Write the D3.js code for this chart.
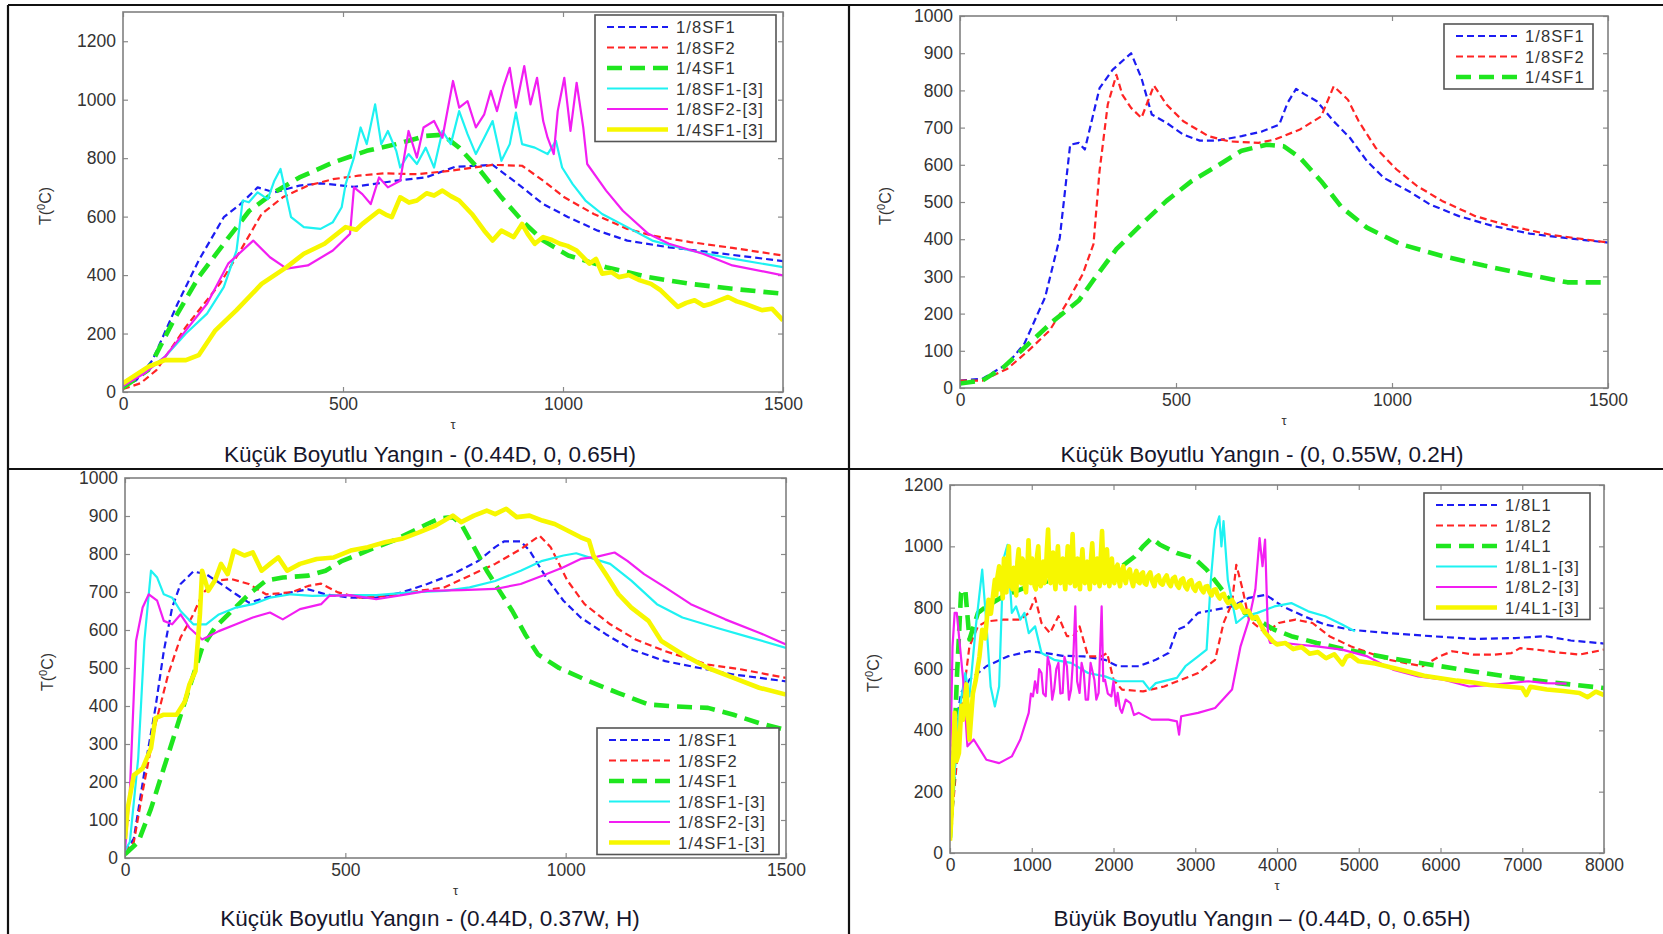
<!DOCTYPE html>
<html>
<head>
<meta charset="utf-8">
<script src="https://cdn.jsdelivr.net/npm/d3@7"></script>
<style>
  body { margin: 0; background: #fff; }
  svg { display: block; font-family: "Liberation Sans", Arial, Helvetica, sans-serif; }
</style>
</head>
<body>
<svg id="fig" width="1663" height="934"></svg>
<script>
// ---------- Data: [time τ, temperature T(°C)] ----------

// Panel A: small fire, (0.44D, 0, 0.65H)
const a_sf1 = [[0,18],[30,40],[67,109],[124,302],[172,450],[229,598],[267,643],[306,700],[344,683],[401,706],[449,714],[525,702],[621,723],[688,734],[754,770],[840,777],[898,711],[955,643],[1012,598],[1079,552],[1146,518],[1241,495],[1337,478],[1500,448]];
const a_sf2 = [[0,10],[40,30],[76,75],[143,223],[220,370],[267,484],[315,609],[363,666],[420,706],[477,728],[535,740],[592,748],[668,745],[745,757],[840,777],[907,774],[955,723],[1003,666],[1070,609],[1146,558],[1203,535],[1289,513],[1385,493],[1500,467]];
const a_qsf1 = [[0,15],[57,75],[115,245],[172,393],[229,507],[287,620],[344,683],[401,734],[477,785],[554,825],[621,848],[688,876],[726,880],[764,836],[812,757],[860,666],[907,586],[955,518],[1012,467],[1098,427],[1194,393],[1289,370],[1385,353],[1500,336]];
const a_sf1_ref = [[0,25],[50,70],[95,120],[143,200],[191,268],[229,359],[258,484],[272,655],[286,649],[306,683],[329,660],[344,723],[358,763],[372,666],[382,598],[411,564],[449,558],[477,581],[497,632],[506,711],[525,802],[540,905],[554,848],[573,984],[587,848],[602,893],[621,825],[630,768],[649,814],[668,780],[688,836],[707,768],[726,893],[745,848],[764,961],[783,882],[802,814],[821,870],[840,927],[860,791],[879,848],[893,956],[907,848],[936,836],[965,814],[984,859],[998,768],[1022,711],[1051,655],[1089,609],[1146,564],[1203,518],[1289,484],[1385,456],[1500,427]];
const a_sf2_ref = [[0,20],[50,65],[95,120],[143,211],[191,302],[239,439],[296,518],[334,461],[372,422],[420,433],[477,484],[516,541],[525,700],[544,677],[563,643],[582,734],[602,700],[630,723],[649,893],[668,802],[683,905],[707,927],[726,870],[750,1064],[764,973],[783,995],[802,905],[821,950],[836,1030],[850,961],[864,1041],[879,1109],[893,973],[912,1115],[926,984],[941,1075],[955,927],[965,870],[979,814],[988,961],[1003,1075],[1017,893],[1031,1058],[1046,905],[1055,780],[1098,689],[1136,620],[1194,541],[1241,507],[1318,473],[1385,433],[1500,399]];
const a_qsf1_ref = [[0,30],[57,86],[95,109],[143,109],[172,126],[210,211],[258,280],[315,370],[372,427],[411,473],[458,507],[506,564],[530,555],[544,575],[582,620],[600,605],[611,598],[630,666],[650,648],[668,655],[690,680],[707,672],[726,689],[745,670],[764,655],[793,609],[821,552],[840,518],[860,552],[875,540],[888,530],[907,575],[920,540],[936,507],[955,530],[975,520],[993,507],[1010,500],[1031,484],[1060,439],[1075,455],[1089,405],[1110,410],[1127,393],[1150,400],[1175,382],[1200,370],[1222,348],[1261,291],[1280,305],[1299,314],[1320,295],[1337,302],[1375,325],[1395,310],[1413,302],[1452,280],[1475,285],[1500,245]];

// Panel B: small fire, (0, 0.55W, 0.2H)
const b_sf1 = [[0,20],[52,25],[110,65],[149,119],[197,244],[231,404],[255,654],[275,659],[289,641],[323,806],[353,855],[396,900],[420,833],[444,735],[478,713],[517,681],[555,665],[594,665],[652,677],[700,690],[739,708],[758,766],[778,804],[797,790],[826,771],[865,717],[903,672],[942,610],[981,565],[1039,529],[1087,494],[1155,462],[1232,436],[1319,415],[1396,404],[1500,391]];
const b_sf2 = [[0,20],[52,20],[110,52],[159,101],[207,154],[246,226],[284,306],[309,387],[323,583],[342,762],[362,842],[376,788],[396,753],[420,726],[449,813],[478,762],[517,717],[575,677],[623,663],[691,659],[729,668],[787,695],[836,730],[865,811],[898,775],[923,717],[962,646],[1010,588],[1058,543],[1116,503],[1193,462],[1271,436],[1367,412],[1500,391]];
const b_qsf1 = [[0,12],[52,20],[101,56],[159,119],[217,181],[275,235],[313,297],[362,373],[420,440],[478,503],[536,556],[594,596],[652,638],[710,654],[749,650],[787,619],[836,556],[884,485],[942,431],[1019,387],[1116,355],[1213,329],[1309,306],[1406,284],[1500,284]];

// Panel C: small fire, (0.44D, 0.37W, H)
const c_sf1 = [[0,15],[20,51],[49,263],[69,395],[88,544],[107,659],[126,721],[155,754],[184,747],[213,725],[252,694],[281,672],[320,685],[377,699],[416,707],[455,694],[512,685],[570,685],[628,699],[686,721],[744,747],[802,782],[840,818],[860,833],[898,833],[918,809],[956,738],[995,677],[1034,633],[1091,589],[1149,549],[1226,518],[1304,500],[1381,483],[1500,465]];
const c_sf2 = [[0,15],[20,42],[40,174],[69,351],[98,483],[126,580],[155,641],[175,694],[204,730],[242,734],[281,721],[320,694],[377,699],[416,716],[445,722],[483,699],[532,685],[590,689],[667,703],[724,712],[782,743],[840,774],[898,813],[941,848],[966,818],[1004,730],[1043,668],[1101,615],[1159,575],[1226,544],[1323,509],[1400,496],[1500,474]];
const c_qsf1 = [[0,10],[30,42],[59,130],[88,236],[117,342],[146,448],[175,553],[204,606],[242,650],[281,694],[320,730],[358,738],[416,743],[455,756],[493,782],[532,800],[570,818],[609,835],[648,857],[686,879],[715,894],[744,897],[763,879],[792,818],[821,756],[850,703],[879,650],[908,589],[937,536],[985,500],[1053,465],[1120,434],[1188,404],[1246,399],[1323,395],[1381,377],[1439,355],[1500,337]];
const c_sf1_ref = [[0,20],[11,42],[30,263],[44,571],[59,756],[73,738],[88,694],[107,685],[126,650],[155,615],[184,615],[213,641],[252,659],[290,668],[329,685],[377,694],[425,690],[493,692],[570,692],[648,699],[725,703],[782,712],[840,729],[898,756],[947,782],[995,796],[1024,802],[1053,791],[1101,774],[1149,730],[1207,668],[1265,633],[1342,606],[1420,580],[1500,553]];
const c_sf2_ref = [[0,20],[11,174],[25,571],[40,659],[54,694],[73,677],[88,624],[107,615],[126,641],[146,606],[175,575],[213,597],[252,615],[290,633],[329,646],[358,628],[397,655],[445,668],[464,690],[512,692],[570,681],[628,692],[686,703],[763,705],[840,708],[898,721],[947,743],[995,765],[1034,787],[1072,793],[1111,804],[1140,782],[1178,747],[1226,712],[1284,668],[1362,628],[1439,593],[1500,562]];
const c_qsf1_ref = [[0,50],[6,130],[20,218],[40,236],[59,289],[69,368],[88,377],[117,377],[136,412],[146,456],[160,492],[170,641],[175,756],[189,703],[204,730],[218,774],[233,747],[247,809],[271,796],[290,804],[310,756],[329,774],[348,791],[368,756],[397,774],[435,787],[474,791],[512,809],[551,818],[590,831],[628,840],[667,857],[705,875],[744,901],[763,884],[792,901],[821,914],[840,905],[865,919],[889,897],[918,901],[947,888],[975,879],[1004,862],[1034,844],[1053,835],[1063,796],[1091,747],[1120,694],[1149,659],[1188,624],[1217,571],[1265,536],[1323,500],[1381,474],[1439,448],[1500,430]];

// Panel D: large fire, (0.44D, 0, 0.65H)
const d_l1 = [[0,60],[31,348],[135,522],[238,565],[445,609],[704,641],[963,658],[1171,652],[1378,643],[1637,641],[1896,630],[2051,609],[2310,609],[2517,630],[2673,652],[2776,728],[2880,739],[3035,783],[3243,793],[3450,804],[3657,832],[3864,842],[4071,804],[4330,772],[4589,745],[4900,728],[5366,717],[5884,707],[6402,698],[6920,701],[7283,707],[7594,693],[8000,683]];
const d_l2 = [[0,40],[135,457],[238,674],[342,739],[445,755],[652,761],[860,761],[963,783],[1041,832],[1119,750],[1223,717],[1326,772],[1430,707],[1507,707],[1585,739],[1689,641],[1844,641],[1922,652],[2000,565],[2103,533],[2362,527],[2621,543],[2828,565],[3035,587],[3243,630],[3346,750],[3450,815],[3502,940],[3580,859],[3657,761],[3864,717],[4020,750],[4227,761],[4434,750],[4641,707],[4900,674],[5366,630],[5780,609],[5988,641],[6143,658],[6402,647],[6661,647],[6868,652],[6972,668],[7180,663],[7439,654],[7698,647],[8000,663]];
const d_ql1 = [[0,50],[40,239],[83,565],[135,848],[187,859],[238,696],[342,783],[445,804],[652,837],[963,870],[1274,891],[1585,902],[1896,918],[2103,935],[2259,967],[2362,1000],[2466,1027],[2569,1005],[2776,978],[2984,962],[3139,924],[3294,870],[3450,815],[3605,783],[3760,761],[3968,728],[4175,707],[4486,685],[4848,663],[5366,636],[5884,614],[6402,592],[6920,571],[7439,554],[8000,538]];
const d_l1_ref = [[0,50],[57,261],[109,457],[187,587],[238,511],[316,739],[394,924],[445,750],[497,543],[549,478],[601,543],[652,957],[704,1005],[756,783],[808,804],[860,761],[911,783],[963,717],[1041,739],[1119,652],[1274,630],[1481,620],[1689,587],[1896,576],[2051,560],[2362,560],[2440,533],[2517,554],[2776,571],[2880,609],[3035,641],[3139,663],[3191,891],[3243,1054],[3294,1098],[3320,1000],[3346,1082],[3398,891],[3502,750],[3605,772],[3760,783],[3968,804],[4175,815],[4382,788],[4589,772],[4796,745],[4952,723]];
const d_l2_ref = [[0,239],[31,674],[57,783],[83,783],[161,565],[213,348],[290,370],[368,337],[445,304],[601,293],[756,315],[860,370],[963,457],[990,520],[1015,511],[1040,560],[1067,522],[1090,600],[1119,587],[1140,520],[1171,511],[1195,640],[1223,609],[1250,500],[1274,533],[1300,600],[1326,620],[1350,520],[1378,522],[1400,640],[1430,609],[1455,500],[1481,533],[1510,650],[1533,804],[1555,560],[1585,522],[1610,620],[1637,587],[1660,500],[1689,500],[1720,620],[1766,565],[1790,500],[1818,522],[1855,804],[1875,560],[1896,565],[1930,520],[1974,511],[2000,560],[2030,480],[2051,522],[2080,470],[2103,457],[2150,500],[2207,489],[2250,450],[2310,457],[2466,435],[2673,435],[2776,429],[2802,386],[2828,446],[3035,457],[3243,473],[3450,533],[3554,674],[3657,761],[3735,859],[3787,1027],[3823,935],[3854,1022],[3890,707],[3916,685],[4071,685],[4279,679],[4486,674],[4796,663],[5107,641],[5418,598],[5728,576],[6039,565],[6350,543],[6661,549],[7076,560],[7283,554],[7542,552]];
const d_ql1_ref = [[0,40],[20,130],[57,457],[80,300],[109,326],[140,480],[161,435],[200,550],[238,370],[280,520],[316,565],[360,640],[394,728],[430,700],[471,826],[500,780],[549,891],[565,840],[580,900],[601,935],[615,860],[630,905],[645,830],[660,960],[672,880],[690,850],[705,940],[720,1000],[735,870],[750,920],[765,860],[780,930],[795,890],[810,840],[825,950],[840,990],[855,900],[870,880],[885,960],[900,950],[915,870],[930,850],[945,920],[960,1020],[975,930],[990,880],[1005,960],[1020,930],[1035,870],[1050,860],[1065,970],[1080,1000],[1095,900],[1110,870],[1125,940],[1140,950],[1155,880],[1170,900],[1185,990],[1200,1055],[1215,930],[1230,880],[1245,920],[1260,980],[1275,900],[1290,860],[1305,950],[1320,1000],[1335,920],[1350,880],[1365,940],[1380,960],[1395,900],[1410,860],[1425,930],[1440,1000],[1455,910],[1470,880],[1485,950],[1500,1040],[1515,920],[1530,870],[1545,930],[1560,960],[1575,900],[1590,860],[1605,940],[1620,990],[1635,920],[1650,880],[1665,930],[1680,950],[1695,900],[1710,860],[1725,960],[1740,1010],[1755,930],[1770,880],[1785,940],[1800,960],[1815,900],[1830,870],[1845,970],[1860,1050],[1875,940],[1890,880],[1905,950],[1920,990],[1935,910],[1950,870],[1965,930],[1980,960],[1995,900],[2010,880],[2030,930],[2050,940],[2065,890],[2080,870],[2100,920],[2120,935],[2135,895],[2150,880],[2175,915],[2200,925],[2220,890],[2240,870],[2260,905],[2280,920],[2300,885],[2320,880],[2340,910],[2360,915],[2380,880],[2400,875],[2425,905],[2450,915],[2475,885],[2500,870],[2525,900],[2550,905],[2575,880],[2600,875],[2625,895],[2650,905],[2675,880],[2700,870],[2725,895],[2750,900],[2775,875],[2800,865],[2825,890],[2850,895],[2875,870],[2900,860],[2925,885],[2950,890],[2975,865],[3000,855],[3025,875],[3050,880],[3075,860],[3100,850],[3125,868],[3150,870],[3175,850],[3200,840],[3225,858],[3250,860],[3275,840],[3300,830],[3325,842],[3350,845],[3375,825],[3400,815],[3450,825],[3500,800],[3550,810],[3600,785],[3650,790],[3700,765],[3750,770],[3800,745],[3850,720],[3900,705],[3950,690],[4000,680],[4100,685],[4200,665],[4300,672],[4400,650],[4500,655],[4600,635],[4700,648],[4800,615],[4850,640],[4900,645],[5000,625],[5200,618],[5400,605],[5600,592],[5800,578],[6000,570],[6200,562],[6400,556],[6600,548],[6800,543],[7000,538],[7050,515],[7100,542],[7300,533],[7500,528],[7700,522],[7800,508],[7900,526],[8000,515]];

// Tick values and labels
const xTicksSmall = [0, 500, 1000, 1500];
const xTicksLarge = [0, 1000, 2000, 3000, 4000, 5000, 6000, 7000, 8000];
const yTicksA = [0, 200, 400, 600, 800, 1000, 1200];
const yTicksB = [0, 100, 200, 300, 400, 500, 600, 700, 800, 900, 1000];
const yTicksD = [0, 200, 400, 600, 800, 1000, 1200];

const namesSF = ["1/8SF1", "1/8SF2", "1/4SF1", "1/8SF1-[3]", "1/8SF2-[3]", "1/4SF1-[3]"];
const namesL = ["1/8L1", "1/8L2", "1/4L1", "1/8L1-[3]", "1/8L2-[3]", "1/4L1-[3]"];

const titles = [
  "Küçük Boyutlu Yangın - (0.44D, 0, 0.65H)",
  "Küçük Boyutlu Yangın - (0, 0.55W, 0.2H)",
  "Küçük Boyutlu Yangın - (0.44D, 0.37W, H)",
  "Büyük Boyutlu Yangın – (0.44D, 0, 0.65H)"
];

// ---------- Line styles (MATLAB-like) ----------
const STYLES = [
  { color: "#1c1cf2", width: 2.2, dash: "7,4" },   // 1/8 …1  dashed blue
  { color: "#ff2424", width: 2.2, dash: "7,4" },   // 1/8 …2  dashed red
  { color: "#1fe61f", width: 4.6, dash: "15,8" },  // 1/4 …1  thick dashed green
  { color: "#1ef2f2", width: 2.2, dash: null },    // cyan solid
  { color: "#f21ef2", width: 2.2, dash: null },    // magenta solid
  { color: "#f7f700", width: 4.6, dash: null }     // thick yellow solid
];

// ---------- Panel layout ----------
const panels = [
  { x0: 123, x1: 783, yb: 392, yt: 12, xMax: 1500, yMax: 1300, xTicks: xTicksSmall, yTicks: yTicksA,
    series: [a_sf1, a_sf2, a_qsf1, a_sf1_ref, a_sf2_ref, a_qsf1_ref], names: namesSF,
    legend: { x: 595, y: 15, w: 181 }, title: titles[0], titleX: 430, titleY: 462, ylabX: 51 },
  { x0: 960, x1: 1608, yb: 388, yt: 16, xMax: 1500, yMax: 1000, xTicks: xTicksSmall, yTicks: yTicksB,
    series: [b_sf1, b_sf2, b_qsf1], names: namesSF.slice(0, 3),
    legend: { x: 1444, y: 24, w: 149 }, title: titles[1], titleX: 1262, titleY: 462, ylabX: 891 },
  { x0: 125, x1: 786, yb: 858, yt: 478, xMax: 1500, yMax: 1000, xTicks: xTicksSmall, yTicks: yTicksB,
    series: [c_sf1, c_sf2, c_qsf1, c_sf1_ref, c_sf2_ref, c_qsf1_ref], names: namesSF,
    legend: { x: 597, y: 728, w: 182 }, title: titles[2], titleX: 430, titleY: 926, ylabX: 53 },
  { x0: 950, x1: 1604, yb: 853, yt: 485, xMax: 8000, yMax: 1200, xTicks: xTicksLarge, yTicks: yTicksD,
    series: [d_l1, d_l2, d_ql1, d_l1_ref, d_l2_ref, d_ql1_ref], names: namesL,
    legend: { x: 1424, y: 493, w: 166 }, title: titles[3], titleX: 1262, titleY: 926, ylabX: 879 }
];

const svg = d3.select("#fig");
svg.append("rect").attr("width", 1663).attr("height", 934).attr("fill", "#fff");
const fmt = d3.format("d");

panels.forEach((p, i) => {
  const x = d3.scaleLinear().domain([0, p.xMax]).range([p.x0, p.x1]);
  const y = d3.scaleLinear().domain([0, p.yMax]).range([p.yb, p.yt]);
  const g = svg.append("g").attr("class", "panel");
  const w = p.x1 - p.x0, h = p.yb - p.yt;

  g.append("clipPath").attr("id", "clip" + i)
    .append("rect").attr("x", p.x0).attr("y", p.yt).attr("width", w).attr("height", h);

  // axes: ticks pointing inward on all four sides
  const tickColor = "#8a8a8a";
  const styleAxis = (sel, showLabels) => {
    sel.select(".domain").remove();
    sel.selectAll(".tick line").attr("stroke", tickColor).attr("stroke-width", 1.2);
    sel.selectAll(".tick text").attr("fill", "#333").style("font-size", "17.5px")
      .style("font-family", '"Liberation Sans", Arial, sans-serif');
    if (!showLabels) sel.selectAll(".tick text").remove();
  };
  g.append("g").attr("transform", `translate(0,${p.yb})`)
    .call(d3.axisBottom(x).tickValues(p.xTicks).tickFormat(fmt).tickSizeInner(-5).tickSizeOuter(0).tickPadding(5.5))
    .call(s => styleAxis(s, true));
  g.append("g").attr("transform", `translate(0,${p.yt})`)
    .call(d3.axisTop(x).tickValues(p.xTicks).tickSizeInner(-5).tickSizeOuter(0))
    .call(s => styleAxis(s, false));
  g.append("g").attr("transform", `translate(${p.x0},0)`)
    .call(d3.axisLeft(y).tickValues(p.yTicks).tickFormat(fmt).tickSizeInner(-5).tickSizeOuter(0).tickPadding(7))
    .call(s => styleAxis(s, true));
  g.append("g").attr("transform", `translate(${p.x1},0)`)
    .call(d3.axisRight(y).tickValues(p.yTicks).tickSizeInner(-5).tickSizeOuter(0))
    .call(s => styleAxis(s, false));

  // data curves
  const line = d3.line().x(d => x(d[0])).y(d => y(d[1]));
  const lines = g.append("g").attr("clip-path", `url(#clip${i})`);
  p.series.forEach((data, k) => {
    const st = STYLES[k];
    lines.append("path").datum(data)
      .attr("d", line)
      .attr("fill", "none")
      .attr("stroke", st.color)
      .attr("stroke-width", st.width)
      .attr("stroke-linejoin", "round")
      .attr("stroke-dasharray", st.dash);
  });

  // plot box
  g.append("rect").attr("x", p.x0).attr("y", p.yt).attr("width", w).attr("height", h)
    .attr("fill", "none").attr("stroke", "#808080").attr("stroke-width", 1.6);

  // legend
  const rowH = 20.5;
  const lg = g.append("g").attr("transform", `translate(${p.legend.x},${p.legend.y})`);
  const lh = 12 + rowH * (p.names.length - 1) + 12;
  lg.append("rect").attr("width", p.legend.w).attr("height", lh)
    .attr("fill", "#fff").attr("stroke", "#555").attr("stroke-width", 1.6);
  p.names.forEach((name, k) => {
    const st = STYLES[k];
    const ry = 12 + k * rowH;
    lg.append("line").attr("x1", 12).attr("x2", 73).attr("y1", ry).attr("y2", ry)
      .attr("stroke", st.color).attr("stroke-width", st.width).attr("stroke-dasharray", st.dash);
    lg.append("text").attr("x", 81).attr("y", ry + 6)
      .attr("fill", "#333").style("font-size", "16.5px").style("letter-spacing", "1.1px")
      .text(name);
  });

  // axis labels
  const midY = (p.yb + p.yt) / 2;
  const yl = g.append("text")
    .attr("transform", `translate(${p.ylabX},${midY + 4}) rotate(-90)`)
    .attr("text-anchor", "middle").attr("fill", "#333").style("font-size", "16px");
  yl.append("tspan").text("T(");
  yl.append("tspan").attr("dy", -6).style("font-size", "11px").text("0");
  yl.append("tspan").attr("dy", 6).text("C)");

  g.append("text").attr("x", (p.x0 + p.x1) / 2).attr("y", p.yb + 37)
    .attr("text-anchor", "middle").attr("fill", "#333").style("font-size", "13px").text("τ");

  g.append("text").attr("x", p.titleX).attr("y", p.titleY)
    .attr("text-anchor", "middle").attr("fill", "#16162c").style("font-size", "22.5px")
    .text(p.title);
});

// panel separators
const frame = svg.append("g").attr("stroke", "#111").attr("stroke-width", 2.2);
frame.append("line").attr("x1", 8).attr("x2", 1663).attr("y1", 5).attr("y2", 5);
frame.append("line").attr("x1", 8).attr("x2", 1663).attr("y1", 469).attr("y2", 469);
frame.append("line").attr("x1", 8).attr("x2", 8).attr("y1", 5).attr("y2", 934);
frame.append("line").attr("x1", 849).attr("x2", 849).attr("y1", 5).attr("y2", 934);
</script>
</body>
</html>
